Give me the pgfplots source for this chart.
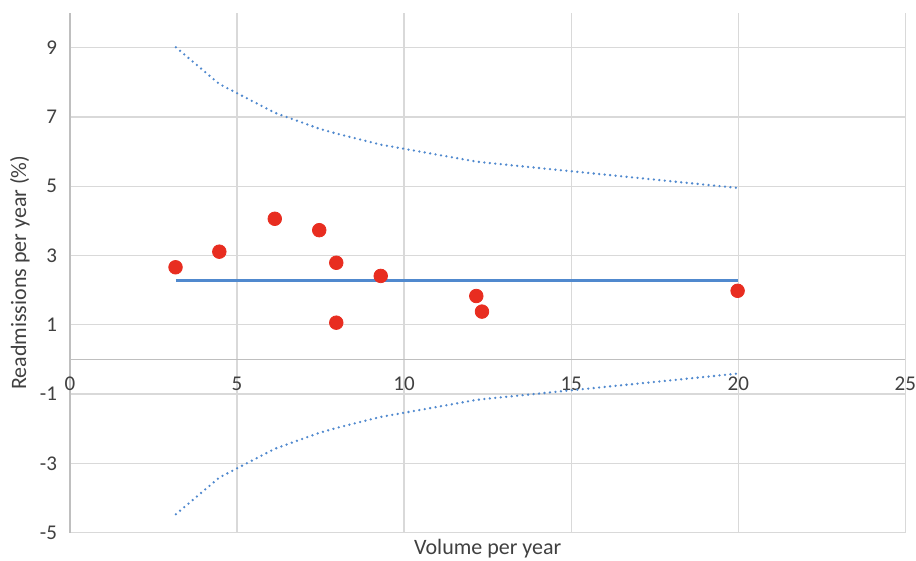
\documentclass[border=0pt]{standalone}
\usepackage{fontspec}
\setmainfont{Carlito}
\usepackage{pgfplots}
\pgfplotsset{compat=1.18}
\definecolor{gridc}{RGB}{217,217,217}
\definecolor{axc}{RGB}{191,191,191}
\definecolor{serblue}{RGB}{80,137,206}
\definecolor{dotred}{RGB}{232,45,32}
\definecolor{txt}{RGB}{64,64,64}
\begin{document}
\begin{tikzpicture}
\begin{axis}[
  scale only axis, width=418pt, height=260pt,
  xmin=0, xmax=25, ymin=-5, ymax=10,
  xtick={0,5,...,25}, ytick={-5,-3,...,9},
  axis x line*=middle, axis y line*=left,
  hide obscured x ticks=false, hide obscured y ticks=false,
  x axis line style={draw=axc, line width=0.8pt, -},
  y axis line style={draw=axc, line width=0.8pt, -},
  major tick length=0pt,
  grid=major, grid style={gridc, line width=0.65pt},
  /pgf/number format/assume math mode=true,
  tick label style={font=\fontsize{10.5}{12}\selectfont, text=txt, inner sep=0pt},
  xticklabel style={yshift=-8.5pt},
  yticklabel style={xshift=-6.3pt},
  xlabel={Volume per year},
  ylabel={Readmissions per year (\%)},
  label style={font=\fontsize{11}{13}\selectfont, text=txt},
  xlabel style={at={(axis description cs:0.5,0)}, anchor=base, yshift=-11pt, inner sep=0pt, text depth=0pt},
  ylabel style={at={(axis description cs:-0.06,0.5)}, anchor=center, rotate=0, inner sep=0pt},
  clip=false,
]
% upper control limit
\addplot[serblue, line width=1.3pt, line cap=round, dash pattern=on 0pt off 2.75pt] coordinates {
 (3.17,9.01) (4.47,7.95) (6.13,7.12) (7.46,6.66) (7.97,6.52) (9.30,6.20) (12.16,5.71) (12.33,5.69) (19.98,4.95)};
% lower control limit
\addplot[serblue, line width=1.3pt, line cap=round, dash pattern=on 0pt off 2.75pt] coordinates {
 (3.17,-4.47) (4.47,-3.41) (6.13,-2.58) (7.46,-2.12) (7.97,-1.98) (9.30,-1.66) (12.16,-1.17) (12.33,-1.15) (19.98,-0.41)};
% mean
\addplot[serblue, line width=1.5pt] coordinates {(3.17,2.27) (19.98,2.27)};
% hospitals
\addplot[only marks, color=dotred, mark=*, mark size=3.4pt, mark options={fill=dotred, draw=dotred}] coordinates {
 (3.16,2.66) (4.47,3.11) (6.13,4.06) (7.46,3.73) (7.97,2.79) (7.97,1.06) (9.30,2.41) (12.16,1.83) (12.33,1.38) (19.98,1.98)};
\path (rel axis cs:0,0) ++(-35pt,-14pt) coordinate (bbA);
\path (rel axis cs:1,1) ++(5pt,6.5pt) coordinate (bbB);
\path[draw=none] (bbA) rectangle (bbB);
\end{axis}
\end{tikzpicture}
\end{document}
